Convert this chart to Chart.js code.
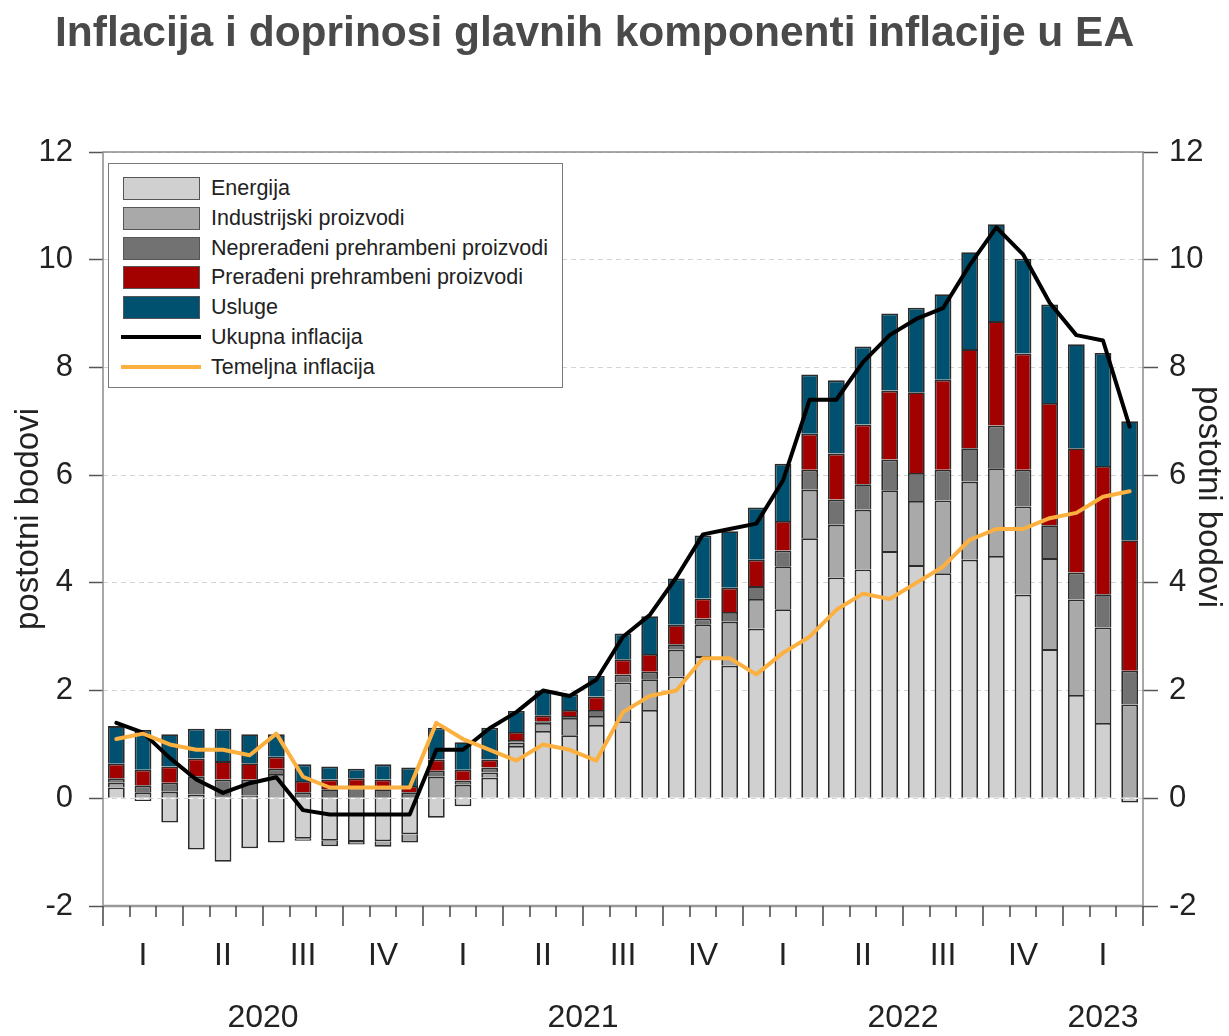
<!DOCTYPE html>
<html>
<head>
<meta charset="utf-8">
<script src="https://cdn.jsdelivr.net/npm/chart.js@4/dist/chart.umd.min.js"></script>
<style>
  body { margin: 0; background: #fff; }
  #wrap { position: relative; width: 1229px; height: 1036px; font-family: "Liberation Sans", Arial, sans-serif; }
  #chart { position: absolute; left: 0; top: 0; }
  #title { position: absolute; left: 55px; top: 10px; font-weight: bold; font-size: 42.5px; line-height: 43px; color: #4a4a4a; white-space: nowrap; }
  #legend { position: absolute; left: 108px; top: 163px; width: 455px; height: 225px; box-sizing: border-box; border: 1.5px solid #7a7a7a; background: #fff; }
  .item { position: absolute; left: 0; height: 24px; width: 100%; }
  .sw { position: absolute; left: 14px; top: 0; width: 77px; height: 23px; box-sizing: border-box; border: 1.5px solid #555; }
  .ln { position: absolute; left: 12px; top: 9px; width: 80px; height: 4px; }
  .txt { position: absolute; left: 102px; top: -1px; font-size: 21.5px; line-height: 24px; color: #222; white-space: nowrap; }
</style>
</head>
<body>
<div id="wrap">
  <canvas id="chart" width="1229" height="1036"></canvas>
  <div id="title">Inflacija i doprinosi glavnih komponenti inflacije u EA</div>
  <div id="legend"></div>
</div>
<script>
// mjeseci od siječnja 2020. do ožujka 2023.
const months = [
  '01/2020','02/2020','03/2020','04/2020','05/2020','06/2020','07/2020','08/2020','09/2020','10/2020','11/2020','12/2020',
  '01/2021','02/2021','03/2021','04/2021','05/2021','06/2021','07/2021','08/2021','09/2021','10/2021','11/2021','12/2021',
  '01/2022','02/2022','03/2022','04/2022','05/2022','06/2022','07/2022','08/2022','09/2022','10/2022','11/2022','12/2022',
  '01/2023','02/2023','03/2023'
];
const quarterLabels = ['I', 'II', 'III', 'IV'];
const yearLabels = ['2020', '2021', '2022', '2023'];
const yTicks = [-2, 0, 2, 4, 6, 8, 10, 12];

// doprinosi u postotnim bodovima
const energija = [0.20,-0.05,-0.45,-0.95,-1.18,-0.93,-0.82,-0.75,-0.79,-0.81,-0.80,-0.67,
  -0.36,-0.15,0.38,0.97,1.25,1.17,1.36,1.43,1.64,2.26,2.64,2.46,
  3.15,3.51,4.83,4.10,4.25,4.59,4.33,4.18,4.43,4.50,3.78,2.77,
  1.92,1.40,-0.08];
const industrijski = [0.09,0.11,0.12,0.07,0.04,0.05,0.45,-0.04,-0.10,-0.05,-0.10,-0.15,
  0.40,0.25,0.10,0.06,0.15,0.32,0.17,0.72,0.57,0.50,0.59,0.82,
  0.55,0.80,0.90,0.98,1.11,1.13,1.19,1.35,1.45,1.63,1.64,1.69,
  1.77,1.77,1.74];
const nepreradeni = [0.08,0.13,0.17,0.34,0.31,0.30,0.10,0.11,0.17,0.20,0.17,0.11,
  0.11,0.08,0.09,0.05,0.03,0.04,0.11,0.15,0.14,0.10,0.11,0.18,
  0.24,0.29,0.37,0.47,0.47,0.57,0.52,0.57,0.62,0.79,0.68,0.61,
  0.50,0.62,0.63];
const preradeni = [0.27,0.29,0.30,0.33,0.34,0.30,0.22,0.21,0.18,0.17,0.18,0.12,
  0.21,0.20,0.15,0.15,0.11,0.11,0.25,0.28,0.33,0.36,0.37,0.45,
  0.49,0.55,0.67,0.85,1.11,1.28,1.50,1.67,1.84,1.94,2.16,2.27,
  2.31,2.38,2.42];
const usluge = [0.70,0.74,0.60,0.55,0.60,0.54,0.42,0.31,0.24,0.18,0.28,0.34,
  0.59,0.51,0.59,0.39,0.46,0.29,0.38,0.48,0.70,0.86,1.17,1.05,
  0.97,1.06,1.10,1.36,1.45,1.43,1.57,1.59,1.80,1.80,1.76,1.83,
  1.93,2.10,2.21];
const ukupna = [1.4,1.22,0.75,0.35,0.1,0.28,0.39,-0.22,-0.3,-0.3,-0.3,-0.3,
  0.9,0.9,1.3,1.6,2.0,1.9,2.2,3.0,3.4,4.1,4.9,5.0,
  5.1,5.9,7.4,7.4,8.1,8.6,8.9,9.1,9.9,10.6,10.1,9.2,
  8.6,8.5,6.9];
const temeljna = [1.1,1.2,1.0,0.9,0.9,0.8,1.2,0.4,0.2,0.2,0.2,0.2,
  1.4,1.1,0.9,0.7,1.0,0.9,0.7,1.6,1.9,2.0,2.6,2.6,
  2.3,2.7,3.0,3.5,3.8,3.7,4.0,4.3,4.8,5.0,5.0,5.2,
  5.3,5.6,5.7];

const FONT = '"Liberation Sans", Arial, sans-serif';

const bars = [
  { label: 'Energija', data: energija, color: '#d0d0d0' },
  { label: 'Industrijski proizvodi', data: industrijski, color: '#a9a9a9' },
  { label: 'Neprerađeni prehrambeni proizvodi', data: nepreradeni, color: '#727272' },
  { label: 'Prerađeni prehrambeni proizvodi', data: preradeni, color: '#a30000' },
  { label: 'Usluge', data: usluge, color: '#00506f' }
];
const lines = [
  { label: 'Ukupna inflacija', data: ukupna, color: '#000000' },
  { label: 'Temeljna inflacija', data: temeljna, color: '#fcb040' }
];

const datasets = bars.map(b => ({
  type: 'bar',
  label: b.label,
  data: b.data,
  backgroundColor: b.color,
  borderColor: '#2b2b2b',
  borderWidth: 1.8,
  barPercentage: 0.63,
  categoryPercentage: 1,
  order: 3
})).concat(lines.map((l, i) => ({
  type: 'line',
  label: l.label,
  data: l.data,
  borderColor: l.color,
  borderWidth: 4,
  borderJoinStyle: 'round',
  borderCapStyle: 'round',
  pointRadius: 0,
  tension: 0,
  stack: 'line' + i,
  order: 2 - i
})));

// legenda
const legend = document.getElementById('legend');
bars.concat(lines).forEach((s, i) => {
  const row = document.createElement('div');
  row.className = 'item';
  row.style.top = (13 + i * 29.8) + 'px';
  const mark = document.createElement('div');
  mark.className = i < bars.length ? 'sw' : 'ln';
  mark.style.background = s.color;
  const t = document.createElement('div');
  t.className = 'txt';
  t.textContent = s.label;
  row.appendChild(mark);
  row.appendChild(t);
  legend.appendChild(row);
});

const axisDecor = {
  id: 'axisDecor',
  beforeDatasetsDraw(chart) {
    const { ctx, chartArea: a } = chart;
    ctx.save();
    ctx.strokeStyle = '#8c8c8c';
    ctx.lineWidth = 1.5;
    ctx.strokeRect(a.left, a.top, a.right - a.left, a.bottom - a.top);
    ctx.restore();
  },
  afterDraw(chart) {
    const { ctx, chartArea: a, scales: { x } } = chart;
    const step = x.getPixelForValue(1) - x.getPixelForValue(0);
    ctx.save();
    ctx.strokeStyle = '#999';
    ctx.lineWidth = 2.5;
    ctx.beginPath();
    ctx.moveTo(a.left, a.bottom);
    ctx.lineTo(a.right, a.bottom);
    ctx.stroke();
    ctx.strokeStyle = '#444';
    ctx.lineWidth = 1.5;
    for (let i = 0; i <= months.length; i++) {
      const px = Math.round(x.getPixelForValue(i) - step / 2);
      const len = i % 3 === 0 ? 20 : 11;
      ctx.beginPath();
      ctx.moveTo(px, a.bottom);
      ctx.lineTo(px, a.bottom + len);
      ctx.stroke();
    }
    ctx.fillStyle = '#222';
    ctx.font = '32px ' + FONT;
    ctx.textAlign = 'center';
    ctx.textBaseline = 'middle';
    yearLabels.forEach(yr => {
      const idx = [];
      months.forEach((m, i) => { if (m.endsWith(yr)) idx.push(i); });
      const cx = (x.getPixelForValue(idx[0]) + x.getPixelForValue(idx[idx.length - 1])) / 2;
      ctx.fillText(yr, cx, 1018);
    });
    ctx.font = '33px ' + FONT;
    ctx.save();
    ctx.translate(29, 519);
    ctx.rotate(-Math.PI / 2);
    ctx.fillText('postotni bodovi', 0, 0);
    ctx.restore();
    ctx.save();
    ctx.translate(1208, 497);
    ctx.rotate(Math.PI / 2);
    ctx.fillText('postotni bodovi', 0, 0);
    ctx.restore();
    ctx.restore();
  }
};

const yTickCb = v => (yTicks.includes(v) ? String(v) : '');

new Chart(document.getElementById('chart').getContext('2d'), {
  data: { labels: months, datasets: datasets },
  options: {
    responsive: false,
    animation: false,
    devicePixelRatio: 1,
    layout: { padding: { top: 152, left: 0, right: 0, bottom: 0 } },
    plugins: { legend: { display: false }, tooltip: { enabled: false } },
    scales: {
      x: {
        stacked: true,
        offset: true,
        grid: { display: false, drawTicks: false },
        border: { display: false },
        ticks: {
          autoSkip: false,
          maxRotation: 0,
          padding: 31,
          color: '#222',
          font: { size: 32, family: FONT },
          callback: (v, i) => (i % 3 === 1 ? quarterLabels[Math.floor((i % 12) / 3)] : '')
        },
        afterFit: s => { s.height = 130; }
      },
      y: {
        stacked: true,
        min: -2,
        max: 12,
        ticks: { stepSize: 2, padding: 16, color: '#222', font: { size: 31, family: FONT }, callback: yTickCb },
        grid: { color: '#d4d4d4', lineWidth: 1, tickColor: '#555', tickLength: 14, tickWidth: 1.5 },
        border: { display: false, dash: [5, 4] },
        afterFit: s => { s.width = 103; }
      },
      y2: {
        position: 'right',
        min: -2,
        max: 12,
        ticks: { stepSize: 2, padding: 11, color: '#222', font: { size: 31, family: FONT }, callback: yTickCb },
        grid: { drawOnChartArea: false, tickColor: '#555', tickLength: 15, tickWidth: 1.5 },
        border: { display: false },
        afterFit: s => { s.width = 86; }
      }
    }
  },
  plugins: [axisDecor]
});
</script>
</body>
</html>
